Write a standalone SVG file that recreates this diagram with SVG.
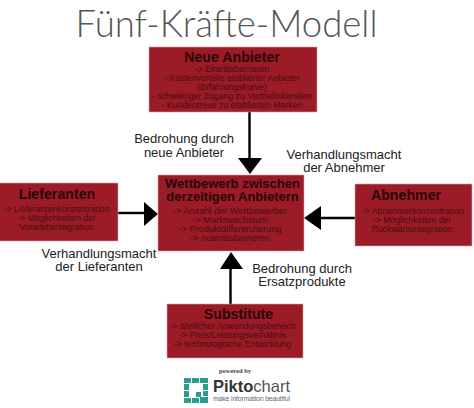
<svg xmlns="http://www.w3.org/2000/svg" width="474" height="408" viewBox="0 0 474 408">
<style>
text{font-family:"Liberation Sans",Arial,sans-serif;text-anchor:middle}
.box{fill:#9b1c27;stroke:#e8a0a0;stroke-width:.6}
.h{font-weight:bold;font-size:14.2px;fill:#2a0508}
.b{font-size:8.7px;fill:#4a0a10}
.l{font-size:13px;fill:#222}
.c{stroke:#000;stroke-width:2.4;fill:none}
.t{fill:#2a9d8f}
</style>
<rect width="474" height="408" fill="#fff"/>
<text id="title" x="226.500" y="37" style="font-family:'Lato','Open Sans',sans-serif;font-size:36.500px;font-weight:300;fill:#555">Fünf-Kräfte-Modell</text>
<g id="connectors">
<path class="c" d="M249.500 112V159"/><polygon points="238,158 262,158 250,174"/>
<path class="c" d="M118 213H145"/><polygon points="144,202 144,226 158,214"/>
<path class="c" d="M355 218H320"/><polygon points="321,206 321,230 304,218"/>
<path class="c" d="M230.500 304V268"/><polygon points="220,269 243,269 231,252"/>
</g>
<g id="neue-anbieter"><rect class="box" x="149" y="47" width="168" height="65"/>
<text class="h" x="232" y="62">Neue Anbieter</text>
<text class="b" x="232" y="72">-&gt; Eintrittsbarrieren</text>
<text class="b" x="232" y="81">- Kostenvorteile etablierter Anbieter</text>
<text class="b" x="232" y="90">(Erfahrungskurve)</text>
<text class="b" x="232" y="99">- schwieriger Zugang zu Vertriebskanälen</text>
<text class="b" x="232" y="108">- Kundentreue zu etablierten Marken</text></g>
<g id="wettbewerb"><rect class="box" x="158" y="175" width="146" height="76"/>
<text class="h" x="232.500" y="188" style="font-size:13px">Wettbewerb zwischen</text>
<text class="h" x="232.500" y="201" style="font-size:13px">derzeitigen Anbietern</text>
<text class="b" x="230" y="214" style="font-size:9.200px">-&gt; Anzahl der Wettbewerber</text>
<text class="b" x="230" y="223" style="font-size:9.200px">-&gt; Marktwachstum</text>
<text class="b" x="230" y="232" style="font-size:9.200px">-&gt; Produktdifferenzierung</text>
<text class="b" x="230" y="241" style="font-size:9.200px">-&gt; Austrittsbarrieren</text></g>
<g id="lieferanten"><rect class="box" x="-2" y="183" width="120" height="58"/>
<text class="h" x="57" y="199">Lieferanten</text>
<text class="b" x="56.500" y="212">-&gt; Lieferantenkonzentration</text>
<text class="b" x="56.500" y="221">-&gt; Möglichkeiten der</text>
<text class="b" x="56.500" y="230">Vorwärtsintegration</text></g>
<g id="abnehmer"><rect class="box" x="355" y="184" width="117" height="62"/>
<text class="h" x="406" y="200">Abnehmer</text>
<text class="b" x="413" y="214">-&gt; Abnehmerkonzentration</text>
<text class="b" x="412" y="223">-&gt; Möglichkeiten der</text>
<text class="b" x="412" y="232">Rückwärtsintegration</text></g>
<g id="substitute"><rect class="box" x="167" y="304" width="136" height="54"/>
<text class="h" x="238.500" y="319">Substitute</text>
<text class="b" x="232.500" y="329">-&gt; ähnlicher Anwendungsbereich</text>
<text class="b" x="232.500" y="338">-&gt; Preis/Leistungsverhältnis</text>
<text class="b" x="232.500" y="347">-&gt; technologische Entwicklung</text></g>
<g id="labels">
<text class="l" x="184" y="143">Bedrohung durch</text><text class="l" x="184" y="157">neue Anbieter</text>
<text class="l" x="344" y="159">Verhandlungsmacht</text><text class="l" x="344" y="172">der Abnehmer</text>
<text class="l" x="99" y="258">Verhandlungsmacht</text><text class="l" x="99" y="271">der Lieferanten</text>
<text class="l" x="302" y="273">Bedrohung durch</text><text class="l" x="302" y="286">Ersatzprodukte</text>
</g>
<g id="logo">
<text x="235" y="373" style="font-family:'Liberation Serif',serif;font-size:6.500px;font-weight:bold;fill:#444">powered by</text>
<g class="t">
<rect x="184" y="378" width="7" height="5"/><rect x="192" y="378" width="7" height="5"/><rect x="200" y="378" width="8" height="5"/>
<rect x="184" y="384" width="5" height="6"/><rect x="184" y="391" width="5" height="6"/><rect x="184" y="398" width="7" height="5"/>
<rect x="203" y="384" width="5" height="6"/><rect x="203" y="391" width="5" height="5"/>
<rect x="192" y="398" width="7" height="5"/><rect x="200" y="397" width="8" height="6"/><rect x="196" y="392" width="5" height="5"/>
</g>
<text x="213" y="392" style="text-anchor:start;font-size:16.500px;font-weight:bold;fill:#333;font-family:'Liberation Sans',sans-serif" textLength="77" lengthAdjust="spacingAndGlyphs">Pikto<tspan font-weight="normal" fill="#555">chart</tspan></text>
<text x="251.500" y="401" style="font-size:6.800px;fill:#666" textLength="77">make information beautiful</text>
</g>
</svg>
